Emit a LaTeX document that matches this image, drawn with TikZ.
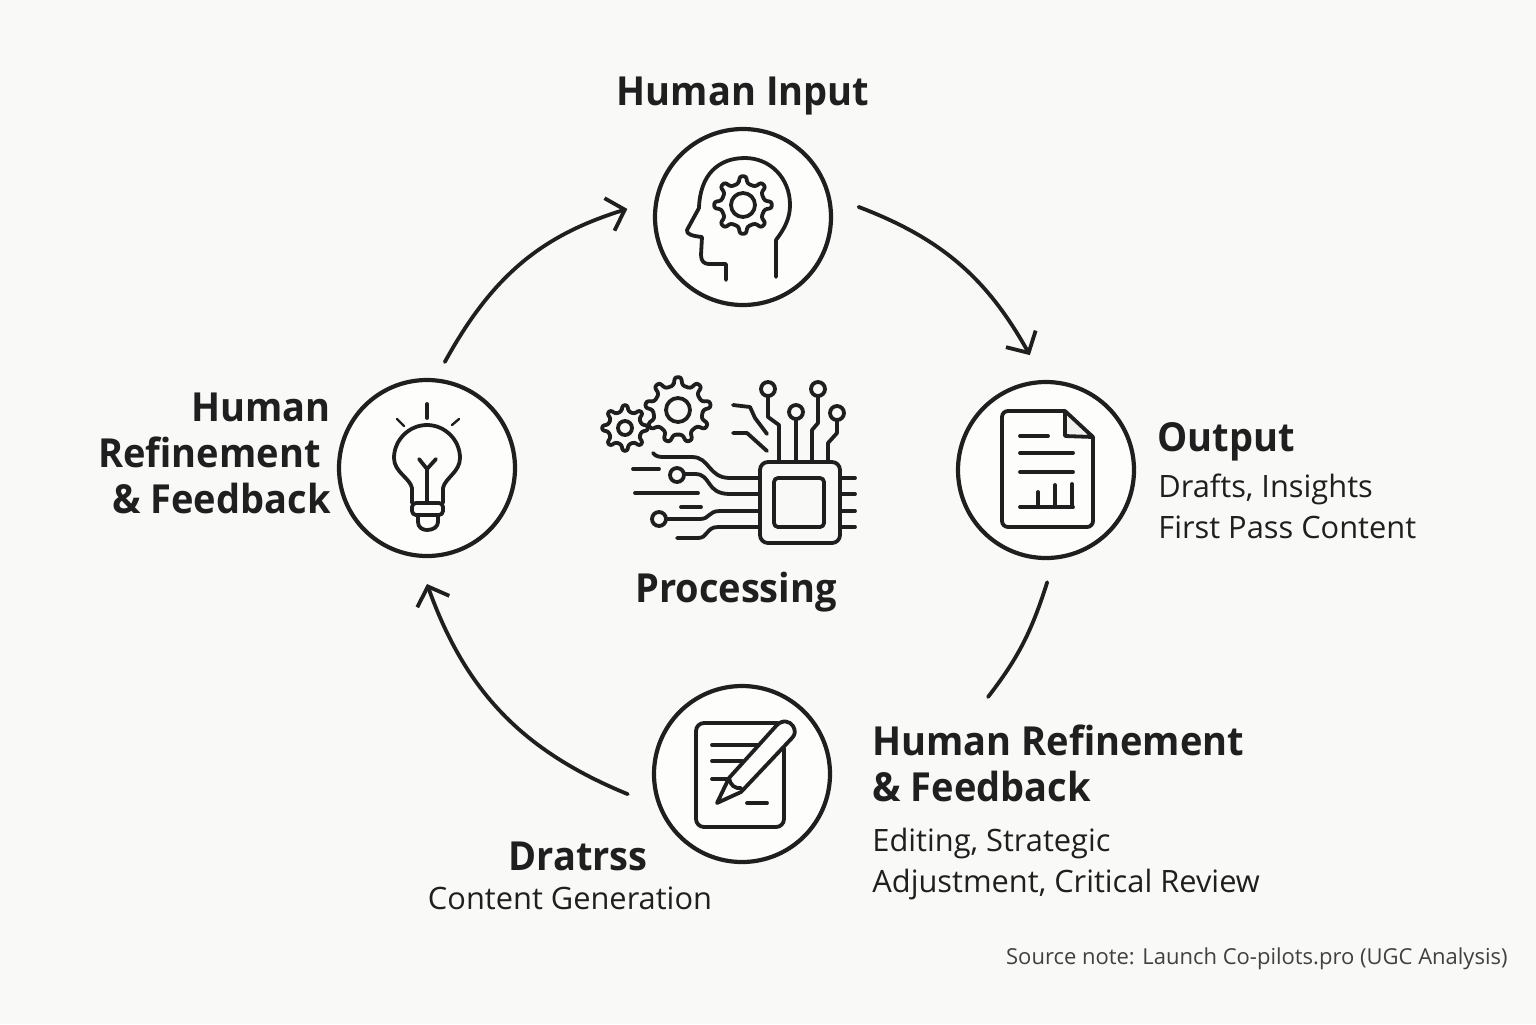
\documentclass[tikz,border=0pt]{standalone}
\usepackage{fontspec}
\setmainfont{Open Sans}[BoldFeatures={FakeStretch=0.95}]
\usetikzlibrary{arrows.meta, positioning}
\definecolor{ink}{RGB}{30,31,30}
\definecolor{paper}{RGB}{249,249,247}
\definecolor{disc}{RGB}{253,253,252}
\definecolor{foldgray}{RGB}{240,241,239}
\tikzset{
    stage/.style={circle, draw=ink, line width=2.1pt, fill=disc, minimum size=88pt, outer sep=14pt},
    icon/.style={draw=ink, line width=1.9pt, line cap=round, line join=round},
    thinray/.style={draw=ink, line width=1.2pt, line cap=round},
    cyclearc/.style={draw=ink, line width=1.9pt, line cap=round},
    cyclehead/.style={-{Straight Barb[length=8pt,width=17pt,line width=1.9pt]}},
    heading/.style={font=\fontsize{20}{23}\selectfont\bfseries, text=ink, inner sep=0pt},
    detail/.style={font=\fontsize{15.4}{20.5}\selectfont, text=ink, inner sep=0pt},
}
\newcommand{\drawgear}[6]{% x, y, outer, root, hole, teeth
    \begin{scope}[shift={(#1,#2)}]
        \draw[icon, rounded corners=1.2pt] (-90-90/#6:#4)
            \foreach \k [evaluate=\k as \a using -90+\k*360/#6] in {0,...,\numexpr#6-1\relax} {
                -- (\a-90/#6:#4) -- (\a-50/#6:#3) -- (\a+50/#6:#3) -- (\a+90/#6:#4)
            } -- cycle;
        \draw[icon] (0,0) circle[radius=#5];
    \end{scope}
}
\begin{document}
\begin{tikzpicture}[x=0.5pt, y=-0.5pt]
    \fill[paper] (0,0) rectangle (1536,1024);
    \useasboundingbox (0,0) rectangle (1536,1024);

    % stages
    \node[stage] (human) at (743,217) {};
    \node[stage] (output) at (1046,470) {};
    \node[stage] (drafts) at (742,774) {};
    \node[stage] (refine) at (427,468) {};

    % cycle
    \coordinate (reviewend) at (988,697);
    \draw[cyclearc, cyclehead, shorten <=-4.5pt] (refine.79) to[bend left=22] (human.176);
    \draw[cyclearc, cyclehead] (human.5) to[bend left=20] (output.98);
    \draw[cyclearc, shorten <=-2pt] (output.270) to[bend left=10] (reviewend);
    \draw[cyclearc, cyclehead] (drafts.190) to[bend left=24] (refine.270);

    % head
    \draw[icon] (776,277) -- (776,240) .. controls (785,228) and (790,218) .. (790,205)
        .. controls (790,178) and (770,158) .. (745,158)
        .. controls (718,158) and (700,175) .. (699,208)
        -- (687,230) .. controls (686,234) and (692,236) .. (702,237)
        -- (701,255) .. controls (701,261) and (704,264) .. (709,264)
        -- (726,264) -- (726,280);
    \drawgear{743}{205}{29}{22}{12}{8}

    % processing gears
    \drawgear{678}{410}{33}{25}{12}{9}
    \drawgear{625}{428}{23}{17}{7}{8}

    % chip
    \draw[icon, rounded corners=4pt] (760,462) rectangle (840,543);
    \draw[icon, rounded corners=2pt] (774,478) rectangle (824,527);
    \foreach \y in {478,494,511,527} {
        \draw[icon] (840,\y) -- (855,\y);
    }
    \draw[icon] (768,397) -- (768,417) -- (779,425) -- (779,462);
    \draw[icon] (796,419) -- (796,462);
    \draw[icon] (818,397) -- (818,423) -- (812,430) -- (812,462);
    \draw[icon] (837,421) -- (837,433) -- (828,443) -- (828,462);
    \foreach \x/\y in {768/389, 796/412, 818/389, 837/413} {
        \draw[icon] (\x,\y) circle[radius=7];
    }
    \draw[icon] (733,405) -- (750,407) -- (755,418) -- (767,434);
    \draw[icon] (733,433) -- (747,433) -- (767,451);

    % traces
    \draw[icon] (653,453) .. controls (656,457) and (660,457) .. (665,457) -- (692,457)
        .. controls (710,457) and (708,478) .. (730,478) -- (758,478);
    \draw[icon] (633,469) -- (659,469);
    \draw[icon] (677,475) circle[radius=7];
    \draw[icon] (685,474) -- (695,474) .. controls (712,474) and (705,494) .. (730,494) -- (758,494);
    \draw[icon] (635,493) -- (698,493);
    \draw[icon] (681,507) -- (701,507);
    \draw[icon] (659,519) circle[radius=7];
    \draw[icon] (667,519) -- (700,519) .. controls (710,519) and (708,511) .. (720,511) -- (758,511);
    \draw[icon] (677,538) -- (698,538) .. controls (708,538) and (706,527) .. (718,527) -- (758,527);

    % document
    \draw[icon, rounded corners=3pt] (1065,411) -- (1002,411) -- (1002,527) -- (1093,527) -- (1093,437);
    \draw[icon, fill=foldgray] (1065,411) -- (1093,437) -- (1065,436) -- cycle;
    \draw[icon] (1020,436) -- (1048,436);
    \draw[icon] (1020,453) -- (1073,453);
    \draw[icon] (1020,472) -- (1073,472);
    \draw[icon] (1020,507) -- (1073,507);
    \draw[icon] (1038,492) -- (1038,507);
    \draw[icon] (1055,485) -- (1055,507);
    \draw[icon] (1072,484) -- (1072,507);

    % note and pen
    \draw[icon, rounded corners=4pt] (778,723) -- (696,723) -- (696,827) -- (784,827) -- (784,748);
    \draw[icon] (712,745) -- (757,745);
    \draw[icon] (712,761) -- (742,761);
    \draw[icon] (712,779) -- (728,779);
    \draw[icon] (747,803) -- (767,803);
    \draw[icon] (717,803) -- (729,778) -- (776,726)
        .. controls (782,719) and (790,721) .. (793,726)
        .. controls (796,731) and (795,735) .. (792,738)
        -- (741,792) -- cycle;
    \draw[icon] (729,778) .. controls (730,785) and (735,789) .. (741,788);

    % bulb
    \draw[icon] (412,503) -- (412,488) .. controls (410,478) and (394,472) .. (394,458)
        .. controls (394,440) and (409,425) .. (427,425)
        .. controls (445,425) and (460,440) .. (460,458)
        .. controls (460,472) and (445,478) .. (443,488) -- (443,503);
    \draw[icon, rounded corners=2pt] (412,503) rectangle (443,515);
    \draw[icon] (418,515) -- (418,522) .. controls (418,527) and (422,530) .. (427,530)
        .. controls (433,530) and (438,527) .. (438,522) -- (438,515);
    \draw[icon] (427,503) -- (427,469) -- (419,459);
    \draw[icon] (427,469) -- (436,459);
    \draw[icon] (427,404) -- (427,418);
    \draw[thinray] (397,419) -- (404,426);
    \draw[thinray] (459,419) -- (452,425);

    % labels
    \node[heading] (humanlabel) at (743,96) {Human Input};
    \node[heading] (processlabel) at (736,592) {Processing};
    \node[heading, align=right, anchor=east] (refinelabel) at (331,453) {Human\\Refinement\hspace*{5pt}\null\\\& Feedback};
    \node[heading, anchor=west] (outputlabel) at (1157,442) {Output};
    \node[detail, align=left, anchor=west] (outputtext) at (1158,506) {Drafts, Insights\\First Pass Content};
    \node[heading, align=left, anchor=west] (reviewlabel) at (872,763) {Human Refinement\\\& Feedback};
    \node[detail, align=left, anchor=west] (reviewtext) at (872,864) {Editing, Strategic\\Adjustment, Critical Review};
    \node[heading] (draftlabel) at (578,856) {Dratrss};
    \node[detail] (drafttext) at (570,898) {Content Generation};
    \node[font=\fontsize{11}{14}\selectfont, text=ink!85, inner sep=0pt, anchor=east] (sourcenote) at (1508,959) {Source note: Launch Co-pilots.pro (UGC Analysis)};
\end{tikzpicture}
\end{document}
